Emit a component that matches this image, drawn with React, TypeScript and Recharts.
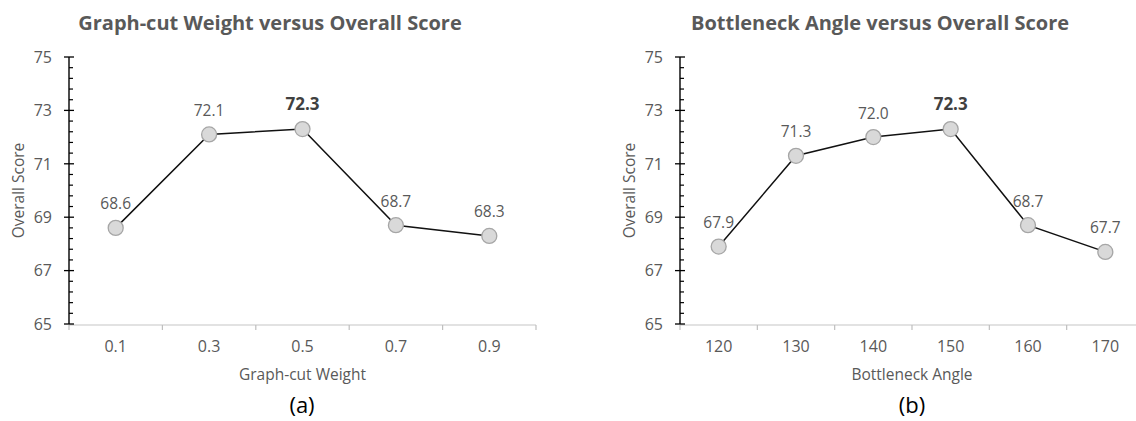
import React from 'react';
import { LineChart, Line, XAxis, YAxis, LabelList } from 'recharts';

// Panel (a): graph-cut weight sweep
const weightLabels = ['0.1', '0.3', '0.5', '0.7', '0.9'];
const weightScores = [68.6, 72.1, 72.3, 68.7, 68.3];

// Panel (b): bottleneck angle sweep
const angleLabels = ['120', '130', '140', '150', '160', '170'];
const angleScores = [67.9, 71.3, 72.0, 72.3, 68.7, 67.7];

// Shared y axis: labelled majors, four minor ticks between each pair
const yMajorTicks = [65, 67, 69, 71, 73, 75];
const yMinorDivisions = 5;

const FONT = '"Open Sans", sans-serif';
const TEXT = '#595959';
const Y_TICK_GAP = 17;

const yAllTicks: number[] = [];
yMajorTicks.forEach((t, i) => {
  yAllTicks.push(t);
  const next = yMajorTicks[i + 1];
  if (next !== undefined) {
    for (let k = 1; k < yMinorDivisions; k++) {
      yAllTicks.push(+(t + ((next - t) * k) / yMinorDivisions).toFixed(4));
    }
  }
});

const isMajor = (v: number) => yMajorTicks.some((t) => Math.abs(t - v) < 1e-6);

const YTick = (props: any) => {
  const { x, y, payload } = props;
  const v = payload.value as number;
  const axisX = x + Y_TICK_GAP;
  if (isMajor(v)) {
    return (
      <g>
        <line x1={axisX - 5} x2={axisX + 5} y1={y} y2={y} stroke="#000" strokeWidth={1.3} />
        <text x={x} y={y} dy="0.36em" textAnchor="end" fontFamily={FONT} fontSize={16} fill={TEXT}>
          {v}
        </text>
      </g>
    );
  }
  return <line x1={axisX} x2={axisX + 4} y1={y} y2={y} stroke="#000" strokeWidth={1.2} />;
};

const NoTick = () => <g />;

const makePointLabel = (maxVal: number) => (props: any) => {
  const { x, y, value } = props;
  const bold = value === maxVal;
  return (
    <text
      x={x}
      y={y - (bold ? 19.5 : 18.5)}
      textAnchor="middle"
      fontFamily={FONT}
      fontSize={bold ? 17 : 15.5}
      fontWeight={bold ? 700 : 400}
      fill={bold ? '#404040' : TEXT}
    >
      {Number(value).toFixed(1)}
    </text>
  );
};

type PanelProps = { labels: string[]; scores: number[]; xTitle: string; width: number };

const ScorePanel = ({ labels, scores, xTitle, width }: PanelProps) => {
  const n = labels.length;
  const rows = labels.map((name, i) => ({ pos: i + 0.5, name, score: scores[i] }));
  const boundaries = labels.map((_, i) => i).concat(n);
  const centers = labels.map((_, i) => i + 0.5);
  const maxVal = Math.max(...scores);
  return (
    <LineChart width={width} height={421} data={rows} margin={{ top: 57, right: 24, bottom: 95, left: 0 }}>
      {/* boundary tick marks and the light baseline */}
      <XAxis
        xAxisId="marks"
        dataKey="pos"
        type="number"
        domain={[0, n]}
        ticks={boundaries}
        height={1}
        axisLine={{ stroke: '#d9d9d9', strokeWidth: 1.3 }}
        tickLine={{ stroke: '#bfbfbf', strokeWidth: 1.2 }}
        tickSize={5}
        tick={NoTick}
        interval={0}
      />
      {/* category names centred in each band */}
      <XAxis
        xAxisId="cats"
        dataKey="pos"
        type="number"
        domain={[0, n]}
        ticks={centers}
        height={1}
        axisLine={false}
        tickLine={false}
        tickSize={0}
        tickMargin={17}
        interval={0}
        tickFormatter={(v: number) => labels[Math.floor(v)]}
        tick={{ fill: TEXT, fontSize: 16, fontFamily: FONT }}
        label={{
          value: xTitle,
          position: 'insideTop',
          offset: 44.5,
          fill: TEXT,
          fontSize: 15.5,
          fontFamily: FONT,
        }}
      />
      <YAxis
        type="number"
        domain={[65, 75]}
        ticks={yAllTicks}
        interval={0}
        width={69}
        axisLine={{ stroke: '#000', strokeWidth: 1.4 }}
        tickLine={false}
        tickSize={0}
        tickMargin={Y_TICK_GAP}
        tick={YTick}
        label={{
          value: 'Overall Score',
          angle: -90,
          position: 'insideLeft',
          offset: 18,
          style: { textAnchor: 'middle' },
          fill: TEXT,
          fontSize: 15.5,
          fontFamily: FONT,
        }}
      />
      <Line
        xAxisId="cats"
        dataKey="score"
        type="linear"
        stroke="#111"
        strokeWidth={1.5}
        dot={{ r: 7.5, fill: '#d9d9d9', stroke: '#a6a6a6', strokeWidth: 1.3 }}
        activeDot={false}
        isAnimationActive={false}
      >
        <LabelList dataKey="score" content={makePointLabel(maxVal)} />
      </Line>
    </LineChart>
  );
};

export default function App() {
  return (
    <div
      style={{
        position: 'absolute',
        left: 0,
        top: 0,
        width: 1136,
        height: 421,
        overflow: 'hidden',
        background: '#fff',
      }}
    >
      <div style={{ position: 'absolute', left: 0, top: 0 }}>
        <ScorePanel labels={weightLabels} scores={weightScores} xTitle="Graph-cut Weight" width={560} />
      </div>
      <div style={{ position: 'absolute', left: 611, top: 0 }}>
        <ScorePanel labels={angleLabels} scores={angleScores} xTitle="Bottleneck Angle" width={557} />
      </div>
      <svg
        width={1136}
        height={421}
        style={{ position: 'absolute', left: 0, top: 0, pointerEvents: 'none' }}
      >
        <text x={270} y={30} textAnchor="middle" fontFamily={FONT} fontSize={20} fontWeight={700} fill={TEXT}>
          Graph-cut Weight versus Overall Score
        </text>
        <text x={880} y={30} textAnchor="middle" fontFamily={FONT} fontSize={20} fontWeight={700} fill={TEXT}>
          Bottleneck Angle versus Overall Score
        </text>
        <text x={302} y={413} textAnchor="middle" fontFamily={FONT} fontSize={22} fill="#000">
          (a)
        </text>
        <text x={912} y={413} textAnchor="middle" fontFamily={FONT} fontSize={22} fill="#000">
          (b)
        </text>
      </svg>
    </div>
  );
}
